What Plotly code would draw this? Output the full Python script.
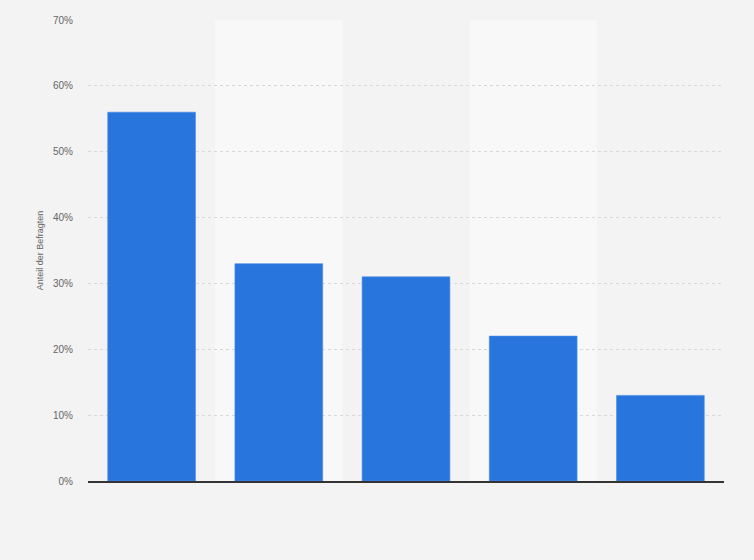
import plotly.graph_objects as go

categories = ["Kategorie 1", "Kategorie 2", "Kategorie 3", "Kategorie 4", "Kategorie 5"]
values = [56, 33, 31, 22, 13]
tick_vals = [0, 10, 20, 30, 40, 50, 60, 70]
tick_text = ["0%", "10%", "20%", "30%", "40%", "50%", "60%", "70%"]

fig = go.Figure()
fig.add_trace(go.Bar(
    x=categories, y=values,
    marker=dict(color="#2876dd", line=dict(color="#4a8ce4", width=0.6)),
    hoverinfo="y",
))

shapes = []
for i in (1, 3):
    shapes.append(dict(type="rect", xref="x", yref="paper", x0=i - 0.5, x1=i + 0.5,
                       y0=0, y1=1, fillcolor="#f8f8f8", line=dict(width=0), layer="below"))

fig.update_layout(
    width=754, height=560,
    margin=dict(l=88, r=30, t=20, b=79),
    paper_bgcolor="#f3f3f3", plot_bgcolor="#f3f3f3",
    bargap=0.31,
    showlegend=False,
    shapes=shapes,
    font=dict(family="Liberation Sans, Arial, sans-serif", color="#666666"),
    xaxis=dict(showticklabels=False, showgrid=False, zeroline=False,
               showline=True, linecolor="#333333", linewidth=1.5, ticks="",
               range=[-0.5, 4.5]),
    yaxis=dict(range=[0, 70], tickvals=tick_vals, ticktext=tick_text,
               showgrid=True, gridcolor="#d8d8d8", griddash="dot", gridwidth=1,
               zeroline=False, showline=False, ticks="",
               tickfont=dict(size=10, color="#666666"), ticklabelstandoff=14,
               title=dict(text="Anteil der Befragten", font=dict(size=9, color="#666666"),
                          standoff=7)),
)

fig.write_html("out.html", config={"displayModeBar": False},
               post_script="document.body.style.margin='0';document.body.style.background='#f3f3f3';")
